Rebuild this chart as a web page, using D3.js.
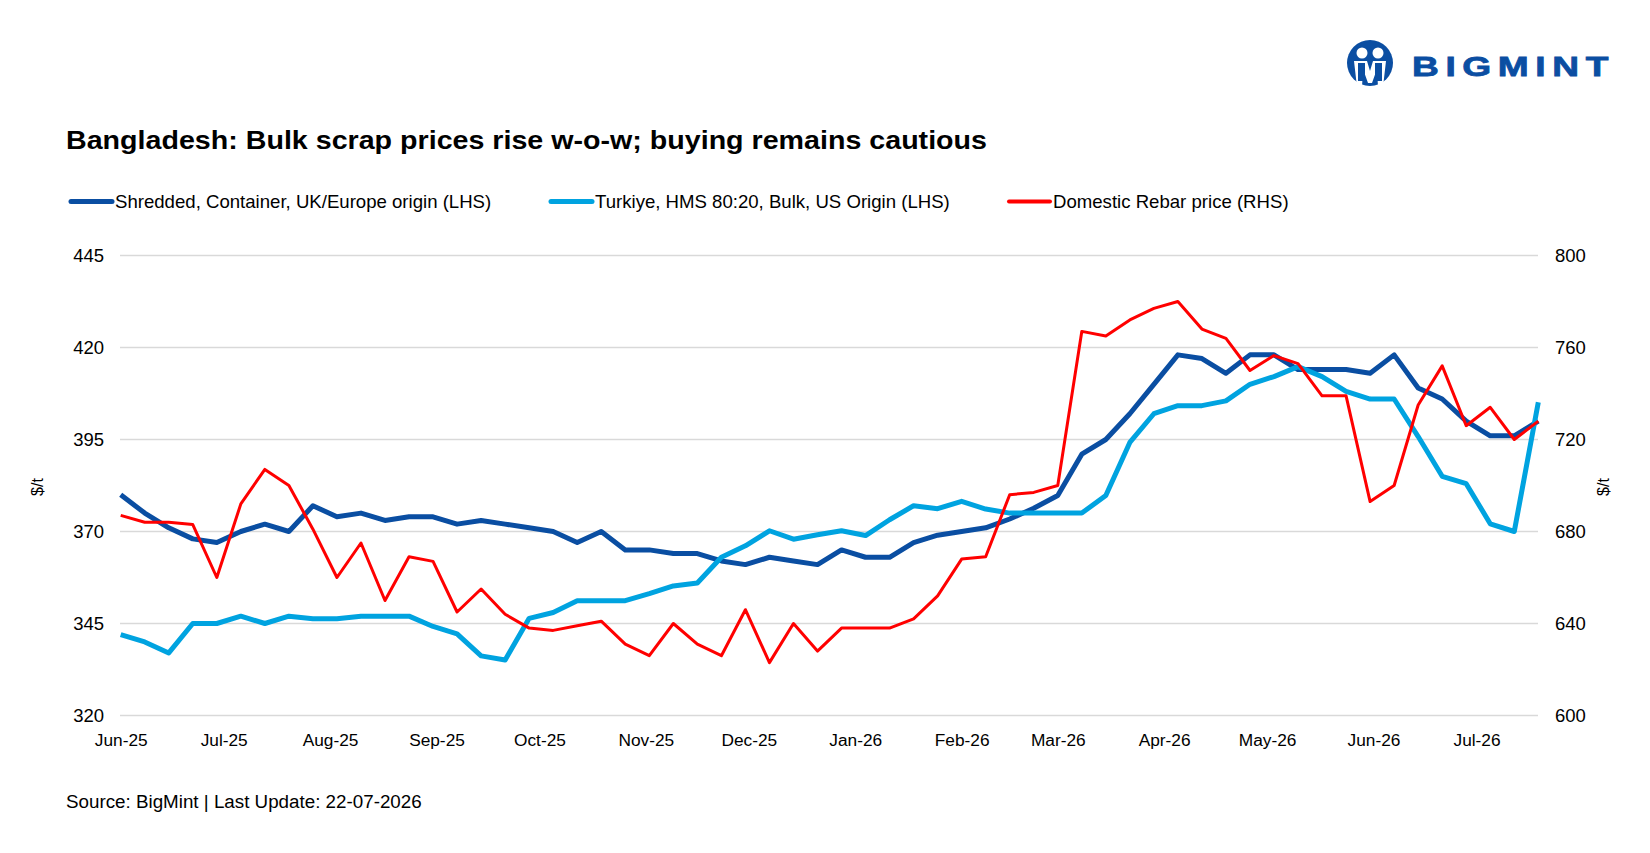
<!DOCTYPE html>
<html>
<head>
<meta charset="utf-8">
<script src="https://cdn.jsdelivr.net/npm/d3@7"></script>
<style>
  body { margin: 0; background: #fff; }
  svg { display: block; font-family: "Liberation Sans", Arial, sans-serif; }
</style>
</head>
<body>
<div id="graf"></div>
<script>
// 1. Datos
FECHA_INICIO = new Date(2025, 5, 1)
SEMANAS      = 60

shredded = [380, 375, 371, 368, 367, 370, 372, 370, 377, 374,
            375, 373, 374, 374, 372, 373, 372, 371, 370, 367,
            370, 365, 365, 364, 364, 362, 361, 363, 362, 361,
            365, 363, 363, 367, 369, 370, 371, 373.4, 376.3, 379.8,
            391, 395, 402, 410, 418, 417, 413, 418, 418, 414,
            414, 414, 413, 418, 409, 406, 400, 396, 396, 400]

turkiye  = [342, 340, 337, 345, 345, 347, 345, 347, 346.3, 346.3,
            347, 347, 347, 344.2, 342.2, 336.2, 335.1, 346.4, 348, 351.2,
            351.2, 351.2, 353.1, 355.2, 356, 363, 366.1, 370.2, 367.9, 369.1,
            370.2, 368.9, 373.2, 377, 376.2, 378.2, 376.1, 375, 375, 375,
            375, 379.8, 394.2, 402, 404.2, 404.2, 405.5, 410, 412.1, 414.8,
            412.1, 408.1, 406, 406, 395.8, 385, 383, 372.1, 370, 405.1]

rebar    = [687, 684, 684, 683, 660, 692, 707, 700, 681, 660,
            675, 650, 669, 667, 645, 655, 644, 638, 637, 639,
            641, 631, 626, 640, 631, 626, 646, 623, 640, 628,
            638, 638, 638, 642, 652, 668, 669, 696, 697, 700,
            767, 765, 772, 777, 780, 768, 764, 750, 756.5, 753,
            739, 739, 693, 700, 735, 752, 726, 734, 720, 728]

ticks_izq = [320, 345, 370, 395, 420, 445]
ticks_der = [600, 640, 680, 720, 760, 800]

series = [
  { nombre: 'Shredded, Container, UK/Europe origin (LHS)', valores: shredded, eje: 'izq', color: '#0a4ea2', ancho: 5 },
  { nombre: 'Turkiye, HMS 80:20, Bulk, US Origin (LHS)',   valores: turkiye,  eje: 'izq', color: '#00a3e0', ancho: 5 },
  { nombre: 'Domestic Rebar price (RHS)',                  valores: rebar,    eje: 'der', color: '#ff0000', ancho: 3 }
]

// 2. Configuración
ANCHO_TOTAL = 1650
ALTO_TOTAL  = 853
COLOR_TEXTO = '#000'
COLOR_GRID  = '#d9d9d9'
COLOR_LOGO  = '#0b4ea2'

margins = { top: 255.5, left: 120.7, right: ANCHO_TOTAL - 1538.3, bottom: ALTO_TOTAL - 715.5 }

svg = d3.select('#graf').append('svg')
  .attr('width', ANCHO_TOTAL)
  .attr('height', ALTO_TOTAL)

fechas = d3.range(SEMANAS).map(i => d3.timeDay.offset(FECHA_INICIO, 7 * i))

fx = d3.scaleTime()
  .domain([fechas[0], fechas[fechas.length - 1]])
  .range([margins.left, ANCHO_TOTAL - margins.right])

fy_izq = d3.scaleLinear().domain([320, 445]).range([ALTO_TOTAL - margins.bottom, margins.top])
fy_der = d3.scaleLinear().domain([600, 800]).range([ALTO_TOTAL - margins.bottom, margins.top])

// 3. Grid y ejes
function estiloEje(e, tam) {
  e.select('.domain').remove()
  e.selectAll('text')
    .attr('font-size', tam)
    .attr('font-family', '"Liberation Sans", Arial, sans-serif')
    .attr('fill', COLOR_TEXTO)
}

function dibujarEjes() {
  g_grid = svg.append('g')
  g_grid.selectAll('line').data(ticks_izq).enter()
    .append('line')
    .attr('x1', 120)
    .attr('x2', 1538)
    .attr('y1', d => fy_izq(d))
    .attr('y2', d => fy_izq(d))
    .attr('stroke', COLOR_GRID)
    .attr('stroke-width', 1.5)

  eje_izq = svg.append('g')
    .attr('transform', 'translate(104,0)')
    .call(d3.axisLeft(fy_izq).tickValues(ticks_izq).tickSize(0).tickPadding(0))
  eje_der = svg.append('g')
    .attr('transform', 'translate(1555,0)')
    .call(d3.axisRight(fy_der).tickValues(ticks_der).tickSize(0).tickPadding(0))
  eje_x = svg.append('g')
    .attr('transform', 'translate(0,734)')
    .call(d3.axisBottom(fx).ticks(d3.timeMonth.every(1)).tickFormat(d3.timeFormat('%b-%y')).tickSize(0).tickPadding(0))

  estiloEje(eje_izq, 18.5)
  estiloEje(eje_der, 18.5)
  estiloEje(eje_x, 17.3)

  svg.append('text')
    .attr('transform', 'translate(43,487) rotate(-90)')
    .attr('text-anchor', 'middle')
    .attr('font-size', 16)
    .text('$/t')
  svg.append('text')
    .attr('transform', 'translate(1609,487) rotate(-90)')
    .attr('text-anchor', 'middle')
    .attr('font-size', 16)
    .text('$/t')
}

// 4. Líneas
function dibujarLineas() {
  series.forEach(s => {
    fy = s.eje == 'izq' ? fy_izq : fy_der
    linea = d3.line()
      .x((d, i) => fx(fechas[i]))
      .y(d => fy(d))
    svg.append('path')
      .datum(s.valores)
      .attr('d', linea)
      .attr('fill', 'none')
      .attr('stroke', s.color)
      .attr('stroke-width', s.ancho)
      .attr('stroke-linejoin', 'round')
  })
}

// 5. Textos, leyenda y logo
function dibujarTextos() {
  svg.append('text')
    .attr('x', 66)
    .attr('y', 149)
    .attr('font-size', 26)
    .attr('font-weight', 'bold')
    .attr('textLength', 921)
    .attr('lengthAdjust', 'spacingAndGlyphs')
    .text('Bangladesh: Bulk scrap prices rise w-o-w; buying remains cautious')

  pos_leyenda = [70, 550, 1008]
  g_ley = svg.append('g').selectAll('g').data(series).enter()
    .append('g')
    .attr('transform', (d, i) => `translate(${pos_leyenda[i]},201.5)`)
  g_ley.append('line')
    .attr('x1', 1).attr('x2', 42)
    .attr('stroke', d => d.color)
    .attr('stroke-width', d => d.ancho == 5 ? 5 : 4)
    .attr('stroke-linecap', 'round')
  g_ley.append('text')
    .attr('x', 45)
    .attr('y', 6.5)
    .attr('font-size', 18.6)
    .text(d => d.nombre)

  svg.append('text')
    .attr('x', 66)
    .attr('y', 808)
    .attr('font-size', 18.8)
    .text('Source: BigMint | Last Update: 22-07-2026')

  logo = svg.append('g').attr('transform', 'translate(1370,63)')
  logo.append('circle').attr('r', 23).attr('fill', COLOR_LOGO)
  logo.append('circle').attr('cx', -8).attr('cy', -10).attr('r', 5.5).attr('fill', '#fff')
  logo.append('circle').attr('cx', 8).attr('cy', -10).attr('r', 5.5).attr('fill', '#fff')
  logo.append('path')
    .attr('d', 'M-16,-2 L-3,-2 L0,8 L3,-2 L16,-2 L13,24 L8,24 L7,6 L2,20 L-2,20 L-7,6 L-8,24 L-13,24 Z')
    .attr('fill', '#fff')
  logo.append('path')
    .attr('d', 'M-12,0 L-5,0 L-5,18 L-12,18 Z M5,0 L12,0 L12,18 L5,18 Z')
    .attr('fill', COLOR_LOGO)
  svg.append('text')
    .attr('x', 1412)
    .attr('y', 75.5)
    .attr('font-size', 28)
    .attr('font-weight', 900)
    .attr('letter-spacing', 5)
    .attr('textLength', 203)
    .attr('lengthAdjust', 'spacingAndGlyphs')
    .attr('stroke', COLOR_LOGO)
    .attr('stroke-width', 0.8)
    .attr('fill', COLOR_LOGO)
    .text('BIGMINT')
}

dibujarEjes()
dibujarLineas()
dibujarTextos()
</script>
</body>
</html>
